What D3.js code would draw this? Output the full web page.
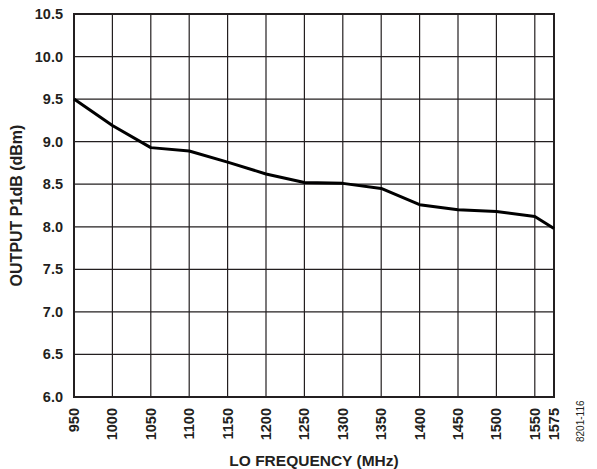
<!DOCTYPE html>
<html>
<head>
<meta charset="utf-8">
<script src="https://cdn.jsdelivr.net/npm/d3@7"></script>
<style>
  body { margin: 0; background: #fff; }
  text { font-family: "Liberation Sans", Arial, sans-serif; font-weight: bold; fill: #231f20; }
</style>
</head>
<body>
<div id="viz"></div>
<script>
// data
const freqs = [950, 1000, 1050, 1100, 1150, 1200, 1250, 1300, 1350, 1400, 1450, 1500, 1550, 1575];
const p1db = [9.5, 9.19, 8.93, 8.89, 8.76, 8.62, 8.52, 8.51, 8.45, 8.26, 8.2, 8.18, 8.12, 7.98];
const xTicks = [950, 1000, 1050, 1100, 1150, 1200, 1250, 1300, 1350, 1400, 1450, 1500, 1550, 1575];
const yTicks = [6.0, 6.5, 7.0, 7.5, 8.0, 8.5, 9.0, 9.5, 10.0, 10.5];

const width = 597, height = 469;
const margin = { left: 74, right: 43, top: 14, bottom: 72 };

const svg = d3.select("#viz").append("svg")
  .attr("width", width)
  .attr("height", height);

const x = d3.scaleLinear().domain([950, 1575]).range([margin.left, width - margin.right]);
const y = d3.scaleLinear().domain([6, 10.5]).range([height - margin.bottom, margin.top]);

// grid
svg.append("g")
  .selectAll("line")
  .data(xTicks)
  .join("line")
  .attr("x1", d => x(d)).attr("x2", d => x(d))
  .attr("y1", y(6)).attr("y2", y(10.5))
  .attr("stroke", "#231f20").attr("stroke-width", 1.2);

svg.append("g")
  .selectAll("line")
  .data(yTicks)
  .join("line")
  .attr("x1", x(950)).attr("x2", x(1575))
  .attr("y1", d => y(d)).attr("y2", d => y(d))
  .attr("stroke", "#231f20").attr("stroke-width", 1.2);

// frame
svg.append("rect")
  .attr("x", x(950)).attr("y", y(10.5))
  .attr("width", x(1575) - x(950)).attr("height", y(6) - y(10.5))
  .attr("fill", "none").attr("stroke", "#231f20").attr("stroke-width", 2);

// y tick labels
svg.append("g")
  .selectAll("text")
  .data(yTicks)
  .join("text")
  .attr("x", x(950) - 11)
  .attr("y", d => y(d) + 5)
  .attr("text-anchor", "end")
  .attr("font-size", 14.5)
  .text(d => d.toFixed(1));

// x tick labels (rotated)
svg.append("g")
  .selectAll("text")
  .data(xTicks)
  .join("text")
  .attr("transform", d => `translate(${x(d) + 5},${y(6) + 11}) rotate(-90)`)
  .attr("text-anchor", "end")
  .attr("font-size", 14.5)
  .text(d => d);

// series
const line = d3.line()
  .x((d, i) => x(freqs[i]))
  .y(d => y(d));

svg.append("path")
  .datum(p1db)
  .attr("d", line)
  .attr("fill", "none")
  .attr("stroke", "#000")
  .attr("stroke-width", 3)
  .attr("stroke-linejoin", "round");

// axis titles
svg.append("text")
  .attr("x", (x(950) + x(1575)) / 2)
  .attr("y", 466)
  .attr("text-anchor", "middle")
  .attr("font-size", 15.5)
  .text("LO FREQUENCY (MHz)");

svg.append("text")
  .attr("transform", `translate(22,${(y(6) + y(10.5)) / 2}) rotate(-90)`)
  .attr("text-anchor", "middle")
  .attr("font-size", 16)
  .text("OUTPUT P1dB (dBm)");

svg.append("text")
  .attr("transform", "translate(584,442) rotate(-90)")
  .attr("font-size", 10)
  .style("font-weight", "normal")
  .text("8201-116");
</script>
</body>
</html>
